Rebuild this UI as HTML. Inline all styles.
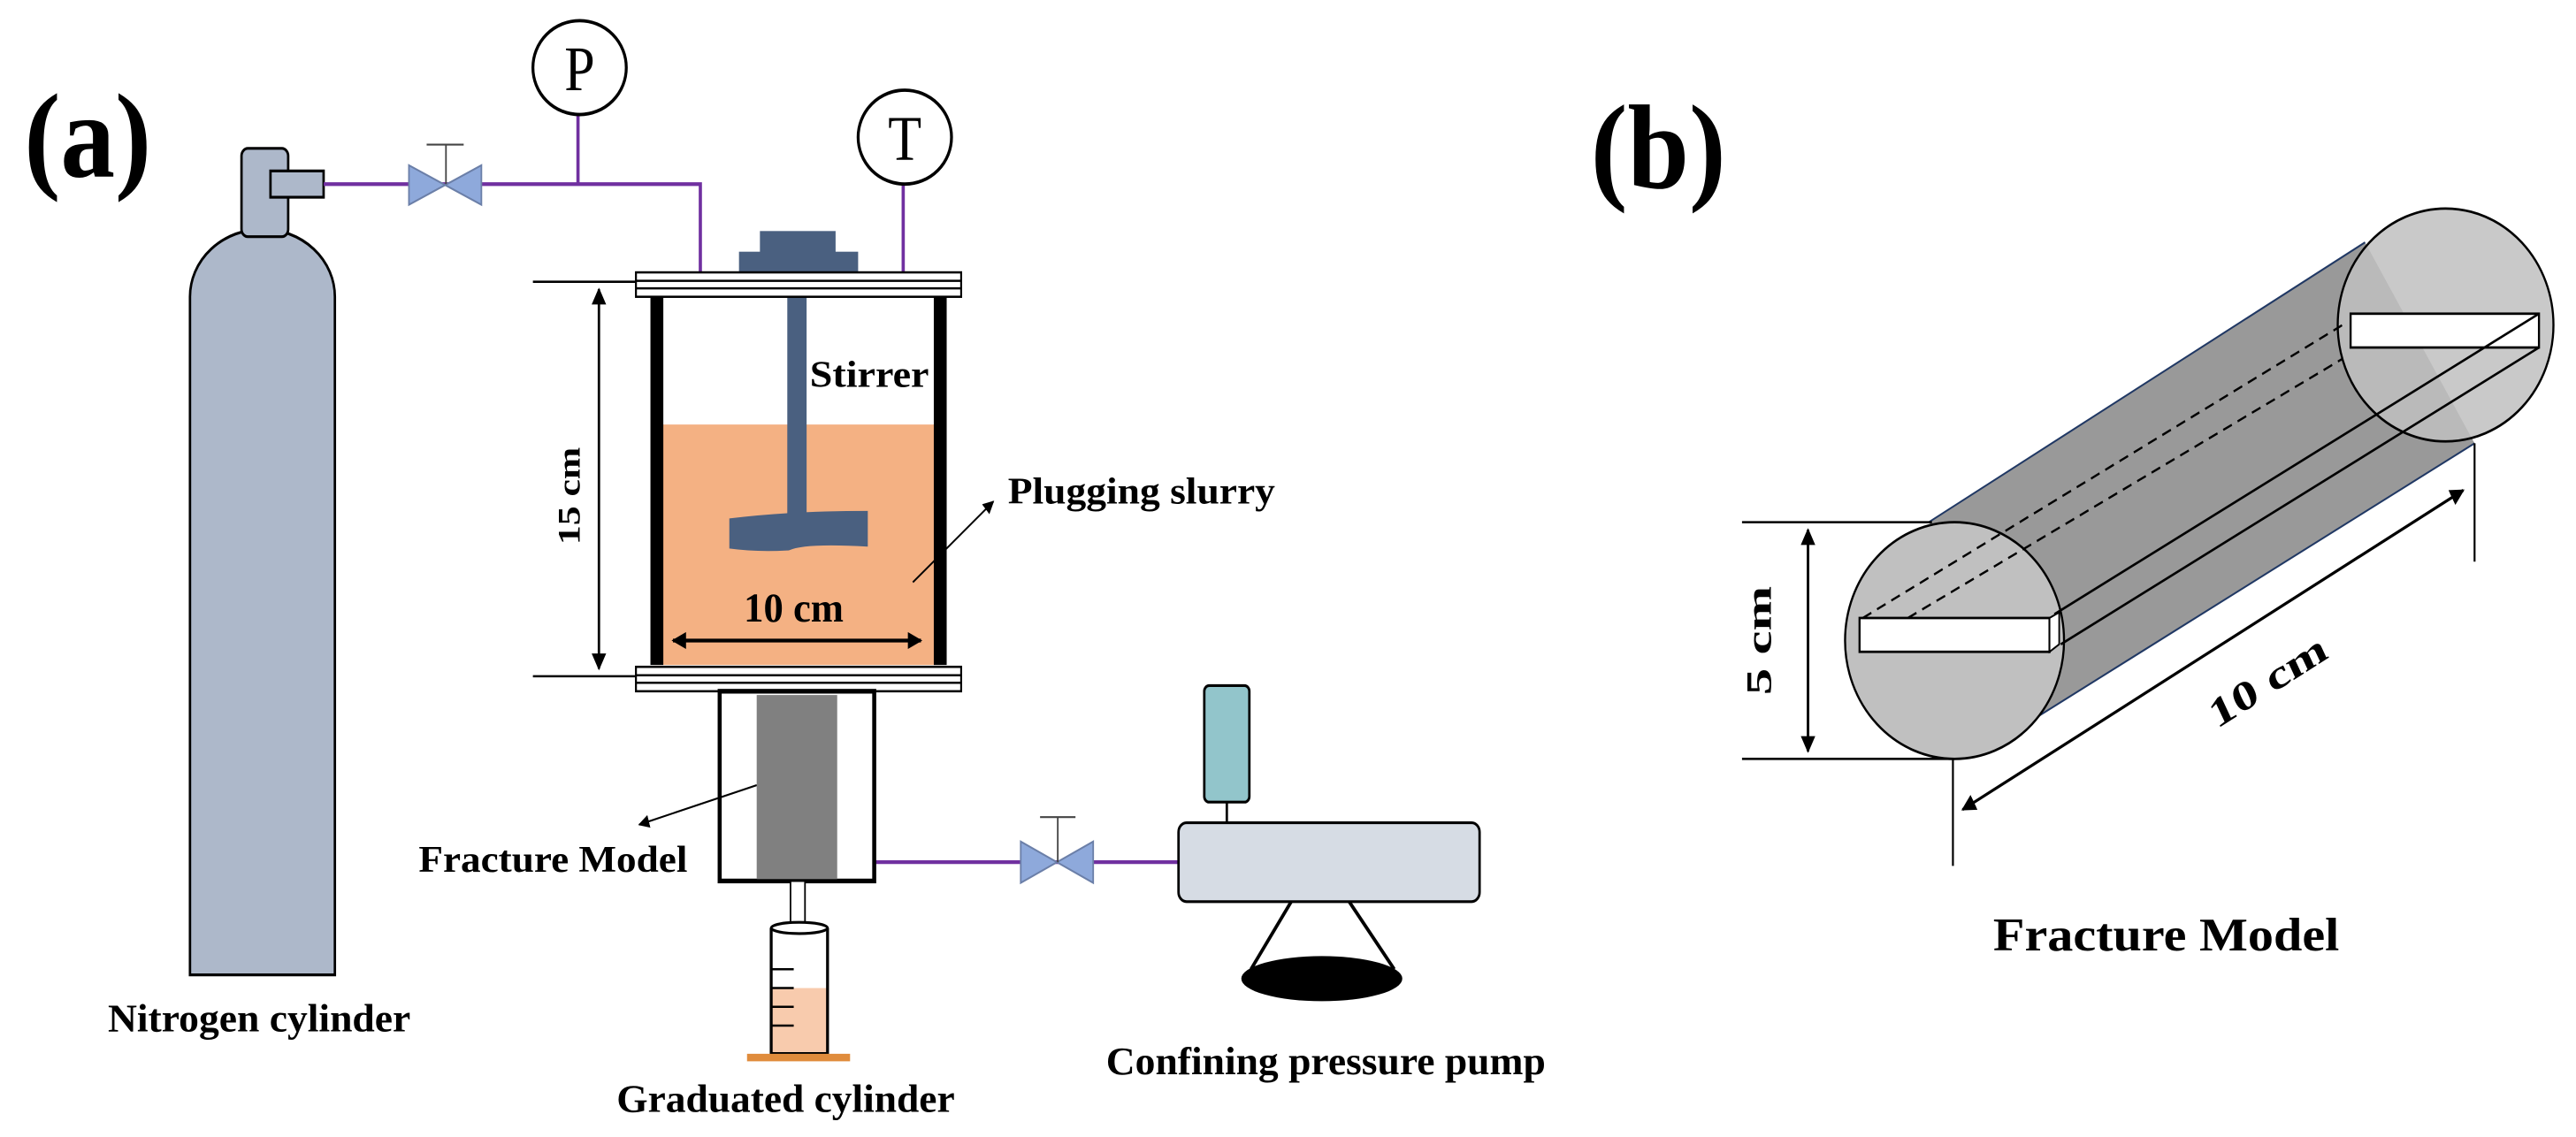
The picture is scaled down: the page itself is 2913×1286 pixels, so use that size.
<!DOCTYPE html>
<html><head><meta charset="utf-8"><style>
html,body{margin:0;padding:0;background:#fff;}
svg{display:block;}
text{font-family:"Liberation Serif",serif;font-weight:bold;fill:#000;}
</style></head><body>
<svg width="2913" height="1286" viewBox="0 0 1600 605.3" preserveAspectRatio="none" xmlns="http://www.w3.org/2000/svg">
<defs>
<marker id="ah" viewBox="0 0 10 10" refX="9" refY="5" markerWidth="7" markerHeight="7" orient="auto-start-reverse" markerUnits="userSpaceOnUse"><path d="M0,0 L10,5 L0,10 z" fill="#000"/></marker>
<marker id="ahs" viewBox="0 0 10 10" refX="9" refY="5" markerWidth="9" markerHeight="9" orient="auto-start-reverse" markerUnits="userSpaceOnUse"><path d="M0,0 L10,5 L0,10 z" fill="#000"/></marker>
</defs>
<rect width="1600" height="605.3" fill="#fff"/>

<text x="15" y="94" font-size="64" textLength="79" lengthAdjust="spacingAndGlyphs">(a)</text>

<path d="M118,519 L118,158 A45,36 0 0 1 208,158 L208,519 Z" fill="#adb8ca" stroke="#000" stroke-width="1.5"/>
<rect x="150" y="79" width="29" height="47" rx="4" fill="#adb8ca" stroke="#000" stroke-width="1.5"/>
<rect x="168" y="91" width="33" height="14" fill="#adb8ca" stroke="#000" stroke-width="1.5"/>
<text x="67" y="549" font-size="21" textLength="188" lengthAdjust="spacingAndGlyphs">Nitrogen cylinder</text>

<g stroke="#7030a0" stroke-width="2" fill="none">
<polyline points="201,98 435,98 435,157"/>
<line x1="359" y1="98" x2="359" y2="61"/>
<line x1="561" y1="98" x2="561" y2="157"/>
<line x1="544" y1="459" x2="732" y2="459"/>
</g>
<path d="M254,88 L299,109 L299,88 L254,109 Z" fill="#8ea9db" stroke="#6b7fa8" stroke-width="1"/>
<line x1="277" y1="98" x2="277" y2="77" stroke="#444" stroke-width="1"/>
<line x1="265" y1="77" x2="288" y2="77" stroke="#444" stroke-width="1"/>
<path d="M634,448 L679,470 L679,448 L634,470 Z" fill="#8ea9db" stroke="#6b7fa8" stroke-width="1"/>
<line x1="657" y1="459" x2="657" y2="435" stroke="#444" stroke-width="1"/>
<line x1="646" y1="435" x2="668" y2="435" stroke="#444" stroke-width="1"/>

<ellipse cx="360" cy="36" rx="29" ry="25" fill="#fff" stroke="#000" stroke-width="1.8"/>
<text x="360" y="48" font-size="34" text-anchor="middle" style="font-weight:normal">P</text>
<ellipse cx="562" cy="73" rx="29" ry="25" fill="#fff" stroke="#000" stroke-width="1.8"/>
<text x="562" y="85" font-size="34" text-anchor="middle" style="font-weight:normal">T</text>

<rect x="406" y="226" width="178" height="128" fill="#f4b183"/>
<rect x="404" y="158" width="8" height="196" fill="#000"/>
<rect x="580" y="158" width="8" height="196" fill="#000"/>
<rect x="472" y="123" width="47" height="12" fill="#4a6080"/>
<rect x="459" y="134" width="74" height="12" fill="#4a6080"/>
<rect x="489" y="145" width="12" height="140" fill="#4a6080"/>
<path d="M453,276 Q490,272 539,272 L539,291 Q500,289 490,293 Q470,294 453,292 Z" fill="#4a6080"/>
<g fill="#fff" stroke="#000" stroke-width="1.2">
<rect x="395" y="145" width="202" height="13"/>
<line x1="395" y1="149.5" x2="597" y2="149.5"/>
<line x1="395" y1="153.5" x2="597" y2="153.5"/>
<rect x="395" y="355" width="202" height="13"/>
<line x1="395" y1="359.5" x2="597" y2="359.5"/>
<line x1="395" y1="363.5" x2="597" y2="363.5"/>
</g>
<line x1="331" y1="150" x2="395" y2="150" stroke="#000" stroke-width="1.2"/>
<line x1="331" y1="360" x2="395" y2="360" stroke="#000" stroke-width="1.2"/>
<line x1="372" y1="154" x2="372" y2="356" stroke="#000" stroke-width="1.5" marker-start="url(#ahs)" marker-end="url(#ahs)"/>
<text transform="translate(360,264) rotate(-90)" font-size="20" text-anchor="middle" textLength="52" lengthAdjust="spacingAndGlyphs">15 cm</text>
<text x="493" y="331" font-size="22" text-anchor="middle" textLength="62" lengthAdjust="spacingAndGlyphs">10 cm</text>
<line x1="418" y1="341" x2="572" y2="341" stroke="#000" stroke-width="2" marker-start="url(#ahs)" marker-end="url(#ahs)"/>
<text x="503" y="206" font-size="20" textLength="74" lengthAdjust="spacingAndGlyphs">Stirrer</text>
<text x="626" y="268" font-size="20" textLength="166" lengthAdjust="spacingAndGlyphs">Plugging slurry</text>
<line x1="567" y1="310" x2="617" y2="267" stroke="#000" stroke-width="1" marker-end="url(#ah)"/>

<rect x="447" y="368" width="96" height="101" fill="#fff" stroke="#000" stroke-width="2.5"/>
<rect x="470" y="370" width="50" height="98" fill="#808080"/>
<line x1="470" y1="418" x2="397" y2="439" stroke="#000" stroke-width="1" marker-end="url(#ah)"/>
<text x="260" y="464" font-size="20" textLength="167" lengthAdjust="spacingAndGlyphs">Fracture Model</text>
<rect x="491" y="469" width="9" height="24" fill="#fff" stroke="#000" stroke-width="1"/>
<rect x="479" y="526" width="35" height="35" fill="#f8cbad"/>
<path d="M479,494 L479,561 L514,561 L514,494" fill="none" stroke="#000" stroke-width="1.8"/>
<ellipse cx="496.5" cy="494" rx="17.5" ry="3" fill="#fff" stroke="#000" stroke-width="1.5"/>
<g stroke="#000" stroke-width="1.2"><line x1="479" y1="516" x2="493" y2="516"/><line x1="479" y1="526" x2="493" y2="526"/><line x1="479" y1="536" x2="493" y2="536"/><line x1="479" y1="546" x2="493" y2="546"/></g>
<rect x="464" y="561" width="64" height="4" fill="#e08c3c"/>
<text x="383" y="592" font-size="21" textLength="210" lengthAdjust="spacingAndGlyphs">Graduated cylinder</text>

<rect x="748" y="365" width="28" height="62" rx="3" fill="#92c5cb" stroke="#000" stroke-width="1.5"/>
<line x1="762" y1="427" x2="762" y2="438" stroke="#000" stroke-width="1.5"/>
<line x1="802" y1="480" x2="777" y2="516" stroke="#000" stroke-width="2"/>
<line x1="838" y1="480" x2="866" y2="516" stroke="#000" stroke-width="2"/>
<ellipse cx="821" cy="521" rx="50" ry="12" fill="#000"/>
<rect x="732" y="438" width="187" height="42" rx="5" fill="#d6dce4" stroke="#000" stroke-width="1.5"/>
<text x="687" y="572" font-size="21" textLength="273" lengthAdjust="spacingAndGlyphs">Confining pressure pump</text>

<text x="988" y="100" font-size="64" textLength="84" lengthAdjust="spacingAndGlyphs">(b)</text>
<path d="M1198,278 L1469,129 L1537,236 L1261,384 Z" fill="#999" stroke="none"/>
<line x1="1198" y1="278" x2="1469" y2="129" stroke="#203864" stroke-width="1"/>
<line x1="1261" y1="384" x2="1537" y2="236" stroke="#203864" stroke-width="1"/>
<ellipse cx="1519" cy="173" rx="67" ry="62" fill="#c0c0c0" stroke="#000" stroke-width="1.3" fill-opacity="0.85"/>
<ellipse cx="1214" cy="341" rx="68" ry="63" fill="#c0c0c0" stroke="#000" stroke-width="1.3"/>
<rect x="1460" y="167" width="117" height="18" fill="#fff" stroke="#000" stroke-width="1.3"/>
<g stroke="#000" stroke-width="1.2" stroke-dasharray="6,4" fill="none">
<line x1="1157" y1="329" x2="1455" y2="173"/>
<line x1="1185" y1="329" x2="1455" y2="191"/>
</g>
<g stroke="#000" stroke-width="1.3" fill="none">
<line x1="1276" y1="327" x2="1577" y2="167"/>
<line x1="1280" y1="343" x2="1577" y2="185"/>
</g>
<rect x="1155" y="329" width="118" height="18" fill="#fff" stroke="#000" stroke-width="1.3"/>
<path d="M1273,329 L1279,326 L1279,343 L1273,347 Z" fill="#fff" stroke="#000" stroke-width="1"/>
<line x1="1082" y1="278" x2="1200" y2="278" stroke="#000" stroke-width="1.2"/>
<line x1="1082" y1="404" x2="1214" y2="404" stroke="#000" stroke-width="1.2"/>
<line x1="1123" y1="282" x2="1123" y2="400" stroke="#000" stroke-width="1.6" marker-start="url(#ahs)" marker-end="url(#ahs)"/>
<text transform="translate(1100,341) rotate(-90)" font-size="22" text-anchor="middle" textLength="58" lengthAdjust="spacingAndGlyphs">5 cm</text>
<line x1="1213" y1="404" x2="1213" y2="461" stroke="#000" stroke-width="1.2"/>
<line x1="1537" y1="236" x2="1537" y2="299" stroke="#000" stroke-width="1.2"/>
<line x1="1219" y1="431" x2="1530" y2="261" stroke="#000" stroke-width="1.6" marker-start="url(#ahs)" marker-end="url(#ahs)"/>
<text transform="translate(1412,369) rotate(-28.7)" font-size="22" text-anchor="middle" textLength="80" lengthAdjust="spacingAndGlyphs">10 cm</text>
<text x="1238" y="506" font-size="25" textLength="215" lengthAdjust="spacingAndGlyphs">Fracture Model</text>
</svg>
</body></html>
